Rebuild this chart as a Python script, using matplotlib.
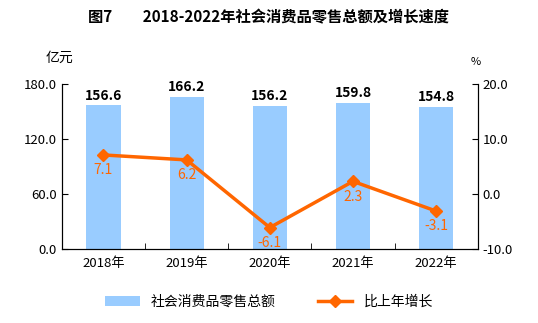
import matplotlib
matplotlib.use('Agg')
import matplotlib.pyplot as plt
import numpy as np

plt.rcParams['font.family'] = ['Noto Sans CJK SC', 'DejaVu Sans']
plt.rcParams['axes.unicode_minus'] = False

years = ["2018年", "2019年", "2020年", "2021年", "2022年"]
sales = [156.6, 166.2, 156.2, 159.8, 154.8]
growth = [7.1, 6.2, -6.1, 2.3, -3.1]

bar_color = "#99CCFF"
line_color = "#FF6600"

fig = plt.figure(figsize=(5.38, 3.23), dpi=100)
ax = fig.add_axes([0.115, 0.229, 0.773, 0.511])
x = np.arange(len(years))

ax.bar(x, sales, width=0.41, color=bar_color, label="社会消费品零售总额", zorder=1)
for xi, v in zip(x, sales):
    ax.annotate(f"{v:.1f}", (xi, v), xytext=(0, 2), textcoords="offset points",
                ha="center", va="bottom", fontsize=10, fontweight="bold")
ax.set_ylim(0, 180)
ax.set_yticks([0, 60, 120, 180])
ax.set_yticklabels([f"{t:.1f}" for t in [0, 60, 120, 180]], fontsize=9.5)
ax.set_xlim(-0.5, 4.5)
ax.set_xticks(x)
ax.set_xticklabels(years, fontsize=9.5)
ax.set_xticks(np.arange(0.5, 4.5, 1), minor=True)
ax.tick_params(axis="x", which="major", length=0, pad=6)
ax.tick_params(axis="x", which="minor", direction="in", length=4)
ax.tick_params(axis="y", direction="in", length=4)
ax.spines["top"].set_visible(False)

ax2 = ax.twinx()
ax2.plot(x, growth, color=line_color, lw=2.5, marker="D", markersize=6,
         label="比上年增长", zorder=3)
for xi, v in zip(x, growth):
    ax2.annotate(f"{v:.1f}", (xi, v), xytext=(0, -6), textcoords="offset points",
                 ha="center", va="top", fontsize=10, color=line_color)
ax2.set_ylim(-10, 20)
ax2.set_yticks([-10, 0, 10, 20])
ax2.set_yticklabels([f"{t:.1f}" for t in [-10, 0, 10, 20]], fontsize=9.5)
ax2.tick_params(axis="y", direction="in", length=4)
ax2.spines["top"].set_visible(False)

fig.text(0.11, 0.81, "亿元", fontsize=10, ha="center")
fig.text(0.885, 0.80, "%", fontsize=8, ha="center")
fig.text(0.5, 0.93, "图7　　2018-2022年社会消费品零售总额及增长速度",
         ha="center", fontsize=11, fontweight="bold")

h1, l1 = ax.get_legend_handles_labels()
h2, l2 = ax2.get_legend_handles_labels()
fig.legend(h1 + h2, l1 + l2, loc="center", bbox_to_anchor=(0.5, 0.065), ncol=2,
           frameon=False, fontsize=10, handlelength=2.5, columnspacing=3)

fig.savefig("out.png", dpi=100)
